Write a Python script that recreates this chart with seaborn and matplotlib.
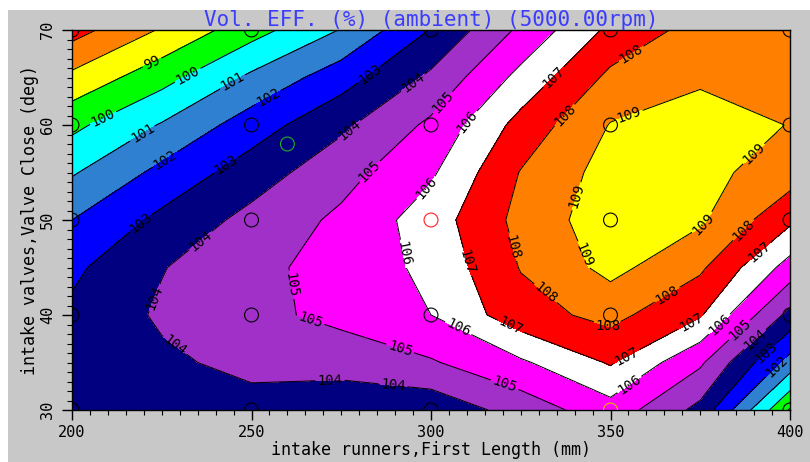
import numpy as np
import matplotlib
matplotlib.use("Agg")
import matplotlib.pyplot as plt
from matplotlib.ticker import MultipleLocator
from matplotlib.patches import Rectangle
import seaborn as sns

# Sweep axes of the response surface
runner_length = [200, 225, 250, 275, 300, 325, 350, 375, 400]   # mm
valve_close = [70, 65, 60, 55, 50, 45, 40, 35, 30]               # deg

# Volumetric efficiency (%) - one row per valve-close angle, one column per runner length
vol_eff = [
    [96.6, 98.1, 99.6, 101.05, 103.05, 105.2, 107.23, 108.4, 108.6],
    [98.25, 99.63, 101.2, 102.55, 104.2, 106.3, 108.23, 108.9, 108.8],
    [99.75, 101.08, 102.5, 103.8, 105.2, 107.35, 109.05, 109.3, 108.98],
    [100.9, 102.27, 103.5, 104.64, 105.85, 108.05, 109.4, 109.3, 108.5],
    [102.0, 103.25, 104.3, 105.2, 106.5, 108.3, 109.6, 109.15, 107.2],
    [102.8, 103.95, 104.75, 105.35, 106.25, 108.05, 109.3, 108.17, 105.6],
    [103.2, 104.15, 104.7, 105.3, 106.0, 107.6, 108.3, 107.1, 103.7],
    [103.3, 103.8, 104.3, 104.35, 104.9, 105.85, 107.1, 105.17, 101.6],
    [103.4, 103.5, 103.6, 103.4, 103.3, 104.4, 105.6, 103.7, 98.9],
]

levels = list(range(96, 111))
band_colors = [
    "#ff0000", "#ff8000", "#ffff00", "#00ff00", "#00ffff", "#2f80d0",
    "#0000ff", "#000080", "#a030c8", "#ff00ff", "#ffffff",
    "#ff0000", "#ff8000", "#ffff00",
]

# Design points of the sweep and the highlighted cases
doe_length = [200, 250, 300, 350, 400]
doe_close = [30, 40, 50, 60, 70]
mark_length = [300, 350, 260]
mark_close = [50, 30, 58]
mark_colors = ["#ff2020", "#e8b400", "#20b020"]

# Where the contour values are written along the lines
label_spots = [
    (222, 66.8), (232, 65.4), (208.6, 60.8), (244.5, 64.7), (219, 59.5),
    (254.2, 63.3), (225.4, 56.7), (283, 65.3), (242, 56.3), (219, 49.7),
    (295, 64.4), (276.5, 59.8), (235.7, 47.9), (224.5, 41.6), (228, 36.5),
    (271.9, 33), (289.4, 32.6), (302, 62.8), (282.5, 55.3), (258, 43),
    (266.3, 39.3), (291.4, 36.5), (320, 32.1), (386.5, 38.2),
    (310.5, 60.2), (298.4, 53.5), (293.2, 46.5), (307.6, 38.6),
    (355.4, 32.6), (381.4, 38.6), (333, 65.5), (309.5, 45.5), (322, 38.8),
    (354.6, 35.5), (373, 38.8), (392.7, 46.1), (355.4, 67.7), (336.8, 61.2),
    (323, 47.2), (329.5, 41.2), (349, 38.6), (366.6, 41.6), (388, 48.6),
    (354.6, 61.6), (338, 52.8), (391.6, 56.3), (342.4, 46.3), (376.8, 49.3),
    (390.8, 37.2), (393.5, 36), (396.7, 34.4),
]

sns.set_theme(style="ticks")
plt.rcParams["font.family"] = ["DejaVu Sans Mono", "DejaVu Sans"]

fig = plt.figure(figsize=(8.10, 4.62), dpi=100)
fig.patch.set_facecolor("white")
panel = Rectangle((8 / 810, 0), 1 - 8 / 810, 1 - 10 / 462,
                  transform=fig.transFigure, facecolor="#c8c8c8",
                  edgecolor="none", zorder=-10)
fig.add_artist(panel)
ax = fig.add_axes([72 / 810, 52 / 462, 718 / 810, 380 / 462])
ax.set_zorder(1)

X, Y = np.meshgrid(runner_length, valve_close)
Z = np.array(vol_eff)
ax.contourf(X, Y, Z, levels=levels, colors=band_colors)
cs = ax.contour(X, Y, Z, levels=levels[1:-1], colors="black", linewidths=0.75)
ax.clabel(cs, fmt="%d", fontsize=10, inline=True, inline_spacing=2,
          manual=label_spots)

pts_x, pts_y, pts_c = [], [], []
for yv in doe_close:
    for xv in doe_length:
        if any(xv == mx and yv == my for mx, my in zip(mark_length, mark_close)):
            continue
        pts_x.append(xv)
        pts_y.append(yv)
        pts_c.append("black")
pts_x += mark_length
pts_y += mark_close
pts_c += mark_colors

sns.scatterplot(x=pts_x, y=pts_y, ax=ax, s=100, facecolors="none",
                edgecolor=pts_c, linewidth=0.8, zorder=5, legend=False)

ax.set_xlim(200, 400)
ax.set_ylim(30, 70)
ax.xaxis.set_major_locator(MultipleLocator(50))
ax.xaxis.set_minor_locator(MultipleLocator(5))
ax.yaxis.set_major_locator(MultipleLocator(10))
ax.yaxis.set_minor_locator(MultipleLocator(1))
ax.tick_params(which="major", length=7, width=1, direction="out",
               colors="black", labelsize=11)
ax.tick_params(which="minor", length=3.5, width=0.8, direction="out",
               colors="black")
ax.tick_params(axis="y", which="major", labelrotation=90, pad=5)
for lab in ax.get_yticklabels():
    lab.set_va("center")
for sp in ax.spines.values():
    sp.set_color("black")
    sp.set_linewidth(1)

ax.set_xlabel("intake runners,First Length (mm)", fontsize=12, labelpad=1,
              color="black")
ax.set_ylabel("intake valves,Valve Close (deg)", fontsize=12, labelpad=1,
              color="black")
ax.set_title("Vol. EFF. (%) (ambient) (5000.00rpm)", fontsize=15,
             color="#3c3cff", pad=2)

fig.savefig("out.png", dpi=100, facecolor=fig.get_facecolor())
